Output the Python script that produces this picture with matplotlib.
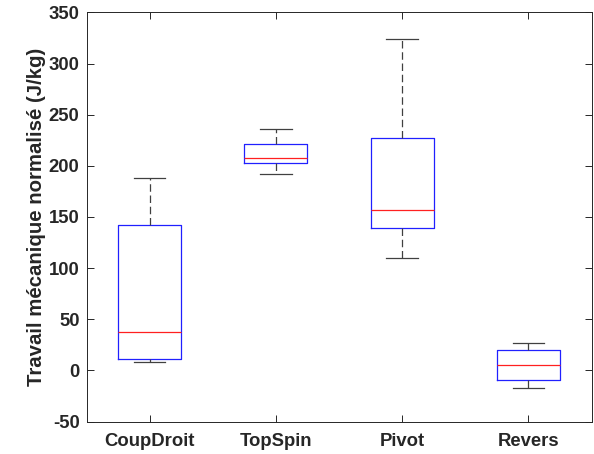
import matplotlib
matplotlib.use("Agg")
import matplotlib.pyplot as plt

plt.rcParams['font.family'] = ['Liberation Sans', 'DejaVu Sans']
plt.rcParams['font.weight'] = 'bold'
plt.rcParams['axes.unicode_minus'] = False

# box statistics
labels = ["CoupDroit", "TopSpin", "Pivot", "Revers"]
whisk_low = [8.4, 192, 110, -17.3]
q1 = [11.3, 202.4, 139.5, -9.9]
medians = [37.8, 207.9, 157, 4.8]
q3 = [142.4, 221.3, 227.2, 19.8]
whisk_high = [188.4, 236, 323.6, 26.7]

stats = []
for i in range(len(labels)):
    stats.append({"label": labels[i], "whislo": whisk_low[i], "q1": q1[i],
                  "med": medians[i], "q3": q3[i], "whishi": whisk_high[i],
                  "fliers": []})

fig = plt.figure(figsize=(5.94, 4.54), dpi=100)
ax = fig.add_axes([86.5 / 594, 32.5 / 454, 505 / 594, 409 / 454])

ax.bxp(stats, widths=0.5, showfliers=False,
       boxprops=dict(color="#2020ff", linewidth=0.9),
       medianprops=dict(color="#ff2020", linewidth=0.9),
       whiskerprops=dict(color="#404040", linewidth=0.9, linestyle=(0, (6, 3))),
       capprops=dict(color="#404040", linewidth=0.9),
       capwidths=0.25)

ax.set_xlim(0.5, 4.5)
ax.set_ylim(-50, 350)
ax.set_yticks(range(-50, 351, 50))
ax.set_ylabel("Travail mécanique normalisé (J/kg)", fontsize=14.7, fontweight='bold',
              color="#262626", labelpad=2)

for s in ax.spines.values():
    s.set_color("#262626")
    s.set_linewidth(0.7)
ax.tick_params(direction='in', top=True, right=True, length=5, width=0.7,
               color="#262626", labelsize=13.3, labelcolor="#262626")
ax.tick_params(axis='y', pad=5)
ax.tick_params(axis='x', pad=8)
for lab in ax.get_xticklabels() + ax.get_yticklabels():
    lab.set_fontweight('bold')

fig.savefig("out.png", dpi=100)
